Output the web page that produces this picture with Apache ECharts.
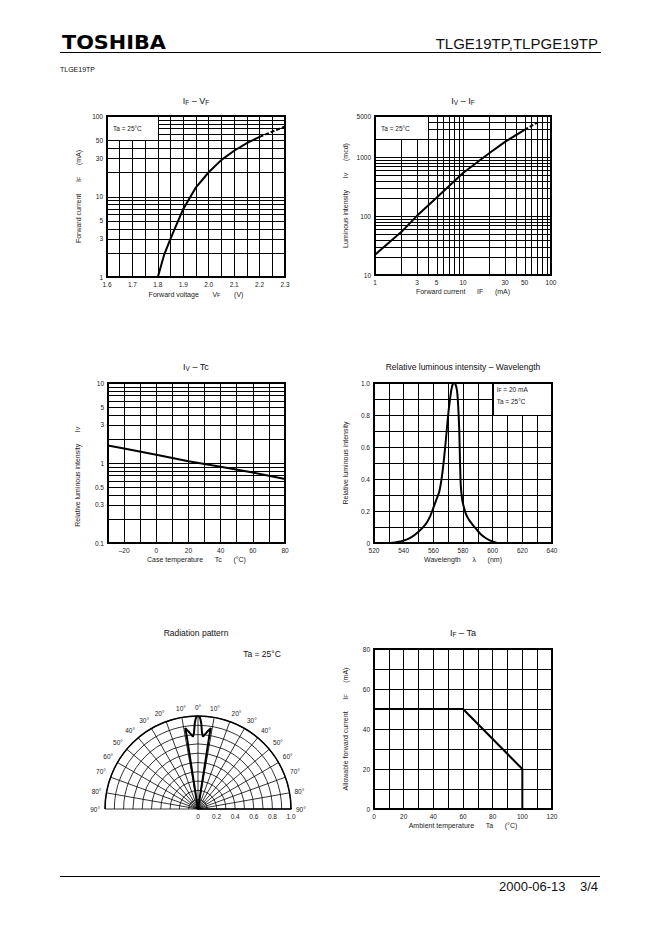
<!DOCTYPE html>
<html><head><meta charset="utf-8">
<script src="https://cdn.jsdelivr.net/npm/echarts@6/dist/echarts.min.js"></script>
<style>html,body{margin:0;padding:0;background:#fff}#c{width:662px;height:936px}</style>
</head><body><div id="c"></div>
<script>
// ---------------- data ----------------
// IF - VF
const vfSolid = [1.8, 1.825, 1.85, 1.875, 1.9, 1.95, 2.0, 2.05, 2.1, 2.15, 2.2];
const ifSolid = [1, 1.9, 3, 4.6, 7, 13, 20, 28.5, 37, 46, 55];
const vfDash = [2.2, 2.25, 2.3];
const ifDash = [55, 64, 74];
const ifTicks1 = [1, 3, 5, 10, 30, 50, 100];
const ifGrid1 = [2, 3, 4, 5, 6, 7, 8, 9, 10, 20, 30, 40, 50, 60, 70, 80, 90];
// IV - IF
const ifX2 = [1, 2, 3, 5, 10, 20, 30, 50];
const ivY2 = [22, 54, 101, 205, 540, 1180, 1820, 2900];
const ifX2Dash = [50, 75];
const ivY2Dash = [2900, 4100];
const ifTicks2 = [1, 3, 5, 10, 30, 50, 100];
const ivTicks2 = [10, 100, 1000, 5000];
const ifGrid2 = [2, 3, 4, 5, 6, 7, 8, 9, 10, 20, 30, 40, 50, 60, 70, 80, 90];
const ivGrid2 = [20, 30, 40, 50, 60, 70, 80, 90, 100, 200, 300, 400, 500, 600, 700, 800, 900, 1000, 2000, 3000, 4000];
// IV - Tc
const tc3 = [-30, -20, 0, 20, 40, 60, 80];
const iv3 = [1.65, 1.52, 1.27, 1.05, 0.9, 0.76, 0.63];
const ivTicks3 = [0.1, 0.3, 0.5, 1, 3, 5, 10];
const ivGrid3 = [0.2, 0.3, 0.4, 0.5, 0.6, 0.7, 0.8, 0.9, 1, 2, 3, 4, 5, 6, 7, 8, 9];
// Relative luminous intensity - wavelength
const wl4 = [531, 535, 540, 545, 550, 555, 558, 560, 562, 564, 566, 568, 570, 571, 572, 573, 574, 575, 576, 576.8, 577.5, 578, 578.5, 579.2, 580, 582, 584, 586, 588, 590, 592, 595, 598, 600, 603];
const rel4 = [0, 0.005, 0.015, 0.035, 0.07, 0.12, 0.17, 0.22, 0.27, 0.32, 0.43, 0.6, 0.8, 0.88, 0.95, 0.99, 1.0, 0.99, 0.95, 0.85, 0.7, 0.5, 0.36, 0.29, 0.245, 0.18, 0.145, 0.12, 0.097, 0.075, 0.055, 0.033, 0.017, 0.01, 0];
// Radiation pattern (angle in degrees, relative radius)
const radAngle = [-8.8, -8.8, -9.0, -6.5, -4.0, -3.0, -2.2, -1.5, -0.7, 0, 0.7, 1.5, 2.2, 3.0, 4.0, 6.5, 9.0, 8.8, 8.8];
const radR = [0, 0.8, 0.88, 0.83, 0.78, 0.82, 0.92, 0.97, 1.0, 1.0, 1.0, 0.97, 0.92, 0.82, 0.78, 0.83, 0.88, 0.8, 0];
// IF - Ta
const ta6 = [0, 60, 100, 100];
const if6 = [50, 50, 20, 0];

// ---------------- styles ----------------
const FONT = '"Liberation Sans", Arial, Helvetica, sans-serif';
const TXT = '#222';
const NB = n => '\u00a0'.repeat(n);
const nameStyle = {
  fontSize: 7, color: TXT, fontFamily: FONT,
  rich: { s: { fontSize: 5.5, color: TXT, fontFamily: FONT, verticalAlign: 'bottom', padding: [2, 0, 0, 0] } }
};
const lblStyle = { fontSize: 6.5, color: TXT, fontFamily: FONT };
const gridLine = { show: true, lineStyle: { color: '#000', width: 1 } };

function gridLines(gi, dim, values, from, to) {
  return {
    type: 'custom', xAxisIndex: gi, yAxisIndex: gi, silent: true, animation: false, clip: false, z: 2,
    data: values.map(v => dim === 'x' ? [v, from] : [from, v]),
    renderItem: (p, api) => {
      const r = v => Math.round(v) + 0.5;
      if (dim === 'x') {
        const v = api.value(0);
        const a = api.coord([v, from]), b = api.coord([v, to]);
        return { type: 'line', shape: { x1: r(a[0]), y1: a[1], x2: r(b[0]), y2: b[1] }, style: { stroke: '#000', lineWidth: 1 } };
      }
      const v = api.value(1);
      const a = api.coord([from, v]), b = api.coord([to, v]);
      return { type: 'line', shape: { x1: a[0], y1: r(a[1]), x2: b[0], y2: r(b[1]) }, style: { stroke: '#000', lineWidth: 1 } };
    }
  };
}
function tickLabels(gi, dim, values, at) {
  return {
    type: 'custom', xAxisIndex: gi, yAxisIndex: gi, silent: true, animation: false, clip: false, z: 3,
    data: values.map(v => dim === 'x' ? [v, at] : [at, v]),
    renderItem: (p, api) => {
      const v = api.value(dim === 'x' ? 0 : 1);
      const pt = api.coord(dim === 'x' ? [v, at] : [at, v]);
      return {
        type: 'text', x: dim === 'x' ? pt[0] : pt[0] - 4, y: dim === 'x' ? pt[1] + 4 : pt[1],
        style: { text: String(v), fontSize: 6.5, fontFamily: FONT, fill: TXT,
                 align: dim === 'x' ? 'center' : 'right', verticalAlign: dim === 'x' ? 'top' : 'middle' }
      };
    }
  };
}
function infoBox(gi, x0, y0, x1, y1, lines, dx, dys) {
  return {
    type: 'custom', xAxisIndex: gi, yAxisIndex: gi, silent: true, animation: false, clip: false, z: 5,
    data: [[x0, y0]],
    renderItem: (p, api) => {
      const a = api.coord([x0, y1]), b = api.coord([x1, y0]);
      const r = v => Math.round(v) + 0.5;
      const L = Math.min(a[0], b[0]), R = Math.max(a[0], b[0]);
      const children = [{ type: 'rect', shape: { x: r(L), y: r(a[1]), width: Math.round(R - L), height: Math.round(b[1] - a[1]) },
        style: { fill: '#fff', stroke: '#000', lineWidth: 1 } }];
      lines.forEach((t, i) => children.push({
        type: 'text', x: L + dx, y: a[1] + dys[i],
        style: { text: t, fontSize: 6.5, fontFamily: FONT, fill: TXT, align: 'left', verticalAlign: 'middle',
          rich: { s: { fontSize: 5, fontFamily: FONT, fill: TXT, verticalAlign: 'bottom', padding: [2, 0, 0, 0] } } }
      }));
      return { type: 'group', children };
    }
  };
}
function curve(gi, xs, ys, dashed, smooth) {
  return {
    type: 'line', xAxisIndex: gi, yAxisIndex: gi, data: xs.map((x, i) => [x, ys[i]]),
    symbol: 'none', showSymbol: false, smooth: smooth || false, silent: true, animation: false, z: 6,
    lineStyle: { color: '#000', width: 2, type: dashed ? [4, 2] : 'solid' }
  };
}
function logAxis(gi, min, max, name, gap) {
  return {
    gridIndex: gi, type: 'log', logBase: 10, min, max,
    axisLine: { show: false }, axisTick: { show: false }, axisLabel: { show: false }, splitLine: { show: false },
    name, nameLocation: 'middle', nameGap: gap, nameTextStyle: nameStyle
  };
}
function linAxis(gi, min, max, interval, minorN, fmt, name, gap) {
  return {
    gridIndex: gi, type: 'value', min, max, interval,
    axisLine: { show: false }, axisTick: { show: false },
    minorTick: { show: false, splitNumber: minorN || 5 },
    splitLine: gridLine, minorSplitLine: { show: !!minorN, lineStyle: { color: '#000', width: 1 } },
    axisLabel: Object.assign({ margin: 4, formatter: fmt }, lblStyle),
    name, nameLocation: 'middle', nameGap: gap, nameTextStyle: nameStyle
  };
}

const gridBase = { show: true, z: 10, borderColor: '#000', borderWidth: 2, backgroundColor: 'rgba(0,0,0,0)' };
const grids = [
  { left: 107, top: 116, width: 178, height: 161 },
  { left: 375, top: 116, width: 176, height: 159 },
  { left: 108, top: 383, width: 177, height: 160 },
  { left: 374, top: 383, width: 178, height: 160 },
  { left: 374, top: 649, width: 178, height: 160 }
].map(g => Object.assign({}, gridBase, g));

const fmt1 = v => v.toFixed(1);
const fmtEven20 = v => (Math.round(v) % 20 === 0 ? (v < 0 ? '\u2013' + (-v) : String(v)) : '');
const fmtRel = v => (Math.round(v * 10) % 2 ? '' : (v === 0 ? '0' : v.toFixed(1)));

const xAxis = [
  linAxis(0, 1.6, 2.3, 0.1, 2, fmt1, 'Forward voltage' + NB(7) + 'V{s|F}' + NB(7) + '(V)', 13),
  logAxis(1, 1, 100, 'Forward current' + NB(6) + 'IF' + NB(6) + '(mA)', 13),
  linAxis(2, -30, 80, 10, 0, fmtEven20, 'Case temperature' + NB(6) + 'Tc' + NB(6) + '(\u00b0C)', 13),
  linAxis(3, 520, 640, 10, 0, fmtEven20, 'Wavelength' + NB(6) + '\u03bb' + NB(6) + '(nm)', 13),
  linAxis(4, 0, 120, 20, 2, v => String(v), 'Ambient temperature' + NB(6) + 'Ta' + NB(6) + '(\u00b0C)', 13)
];
const yAxis = [
  logAxis(0, 1, 100, 'Forward current' + NB(6) + 'I{s|F}' + NB(6) + '(mA)', 25),
  logAxis(1, 10, 5000, 'Luminous intensity' + NB(6) + 'I{s|V}' + NB(6) + '(mcd)', 26),
  logAxis(2, 0.1, 10, 'Relative luminous intensity' + NB(6) + 'I{s|V}' + NB(14), 27),
  linAxis(3, 0, 1, 0.1, 0, fmtRel, 'Relative luminous intensity', 25),
  linAxis(4, 0, 80, 20, 2, v => String(v), 'Allowable forward current' + NB(6) + 'I{s|F}' + NB(6) + '(mA)', 25)
];

const series = [
  // chart 1
  gridLines(0, 'y', ifGrid1, 1.6, 2.3),
  tickLabels(0, 'y', ifTicks1, 1.6),
  infoBox(0, 1.6, 50, 1.8, 100, ['Ta = 25\u00b0C'], 6, [12]),
  curve(0, vfSolid, ifSolid, false),
  curve(0, vfDash, ifDash, true),
  // chart 2
  gridLines(1, 'x', ifGrid2, 10, 5000),
  gridLines(1, 'y', ivGrid2, 1, 100),
  tickLabels(1, 'x', ifTicks2, 10),
  tickLabels(1, 'y', ivTicks2, 1),
  infoBox(1, 1, 2000, 4, 5000, ['Ta = 25\u00b0C'], 6, [12]),
  curve(1, ifX2, ivY2, false),
  curve(1, ifX2Dash, ivY2Dash, true),
  // chart 3
  gridLines(2, 'y', ivGrid3, -30, 80),
  tickLabels(2, 'y', ivTicks3, -30),
  curve(2, tc3, iv3, false),
  // chart 4
  infoBox(3, 600, 0.8, 640, 1.0, ['I{s|F} = 20 mA', 'Ta = 25\u00b0C'], 4, [6, 18]),
  curve(3, wl4, rel4, false, 0.2),
  // chart 6
  curve(4, ta6, if6, false),
  // radiation pattern
  {
    type: 'line', coordinateSystem: 'polar', polarIndex: 0, symbol: 'none', showSymbol: false,
    silent: true, animation: false, z: 6, lineStyle: { color: '#000', width: 2 },
    data: radR.map((r, i) => [r, radAngle[i]])
  }
];

function t(x, y, text, size, align, extra) {
  return Object.assign({
    type: 'text', x, y, silent: true,
    style: {
      text, fontSize: size, fontFamily: FONT, fill: '#111', align: align || 'center', verticalAlign: 'middle',
      rich: { s: { fontSize: size * 0.72, fontFamily: FONT, fill: '#111', verticalAlign: 'bottom', padding: [3, 0, 0, 0] } }
    }
  }, extra || {});
}

const option = {
  backgroundColor: '#fff',
  animation: false,
  grid: grids,
  xAxis, yAxis,
  polar: { center: [198, 809], radius: 93 },
  angleAxis: {
    type: 'value', min: -90, max: 90, interval: 10, startAngle: 0, endAngle: 180, clockwise: false,
    axisLine: { show: true, lineStyle: { color: '#000', width: 1.5 } }, axisTick: { show: false },
    axisLabel: Object.assign({ formatter: v => Math.abs(v) + '\u00b0', margin: 5 }, lblStyle),
    splitLine: { show: true, lineStyle: { color: '#000', width: 0.8 } }
  },
  radiusAxis: {
    type: 'value', min: 0, max: 1, interval: 0.1,
    axisLine: { show: true, lineStyle: { color: '#000', width: 1.5 } }, axisTick: { show: false },
    axisLabel: Object.assign({ formatter: fmtRel, margin: -4, verticalAlign: 'top', align: 'center' }, lblStyle),
    splitLine: { show: true, lineStyle: { color: '#000', width: 0.8 } }
  },
  series,
  graphic: [
    { type: 'text', x: 62, y: 42, silent: true, scaleX: 1.04,
      style: { text: 'TOSHIBA', fontSize: 20, fontWeight: 'bold', fontFamily: '"DejaVu Sans", sans-serif', fill: '#000', align: 'left', verticalAlign: 'middle' } },
    t(598, 43, 'TLGE19TP,TLPGE19TP', 15, 'right'),
    { type: 'line', silent: true, shape: { x1: 60, y1: 52.5, x2: 601, y2: 52.5 }, style: { stroke: '#000', lineWidth: 1 } },
    t(60, 69, 'TLGE19TP', 7, 'left'),
    { type: 'line', silent: true, shape: { x1: 60, y1: 876.5, x2: 600, y2: 876.5 }, style: { stroke: '#000', lineWidth: 1 } },
    t(598, 886, '2000-06-13' + NB(4) + '3/4', 13, 'right'),
    t(196, 101, '{n|I}{s|F}{n| \u2013 V}{s|F}', 9),
    t(463, 101, '{n|I}{s|V}{n| \u2013 I}{s|F}', 9),
    t(196, 367, '{n|I}{s|V}{n| \u2013 Tc}', 9),
    t(463, 367, 'Relative luminous intensity \u2013 Wavelength', 8.5),
    t(196, 633, 'Radiation pattern', 8.5),
    t(463, 633, '{n|I}{s|F}{n| \u2013 Ta}', 9),
    t(262, 654, 'Ta = 25\u00b0C', 8.5)
  ]
};
option.graphic.forEach(g => { if (g.style && g.style.rich) g.style.rich.n = { fontSize: g.style.fontSize, fontFamily: FONT, fill: '#111' }; });

const chart = echarts.init(document.getElementById('c'), null, { renderer: 'svg', width: 662, height: 936 });
chart.setOption(option);
</script>
</body></html>
